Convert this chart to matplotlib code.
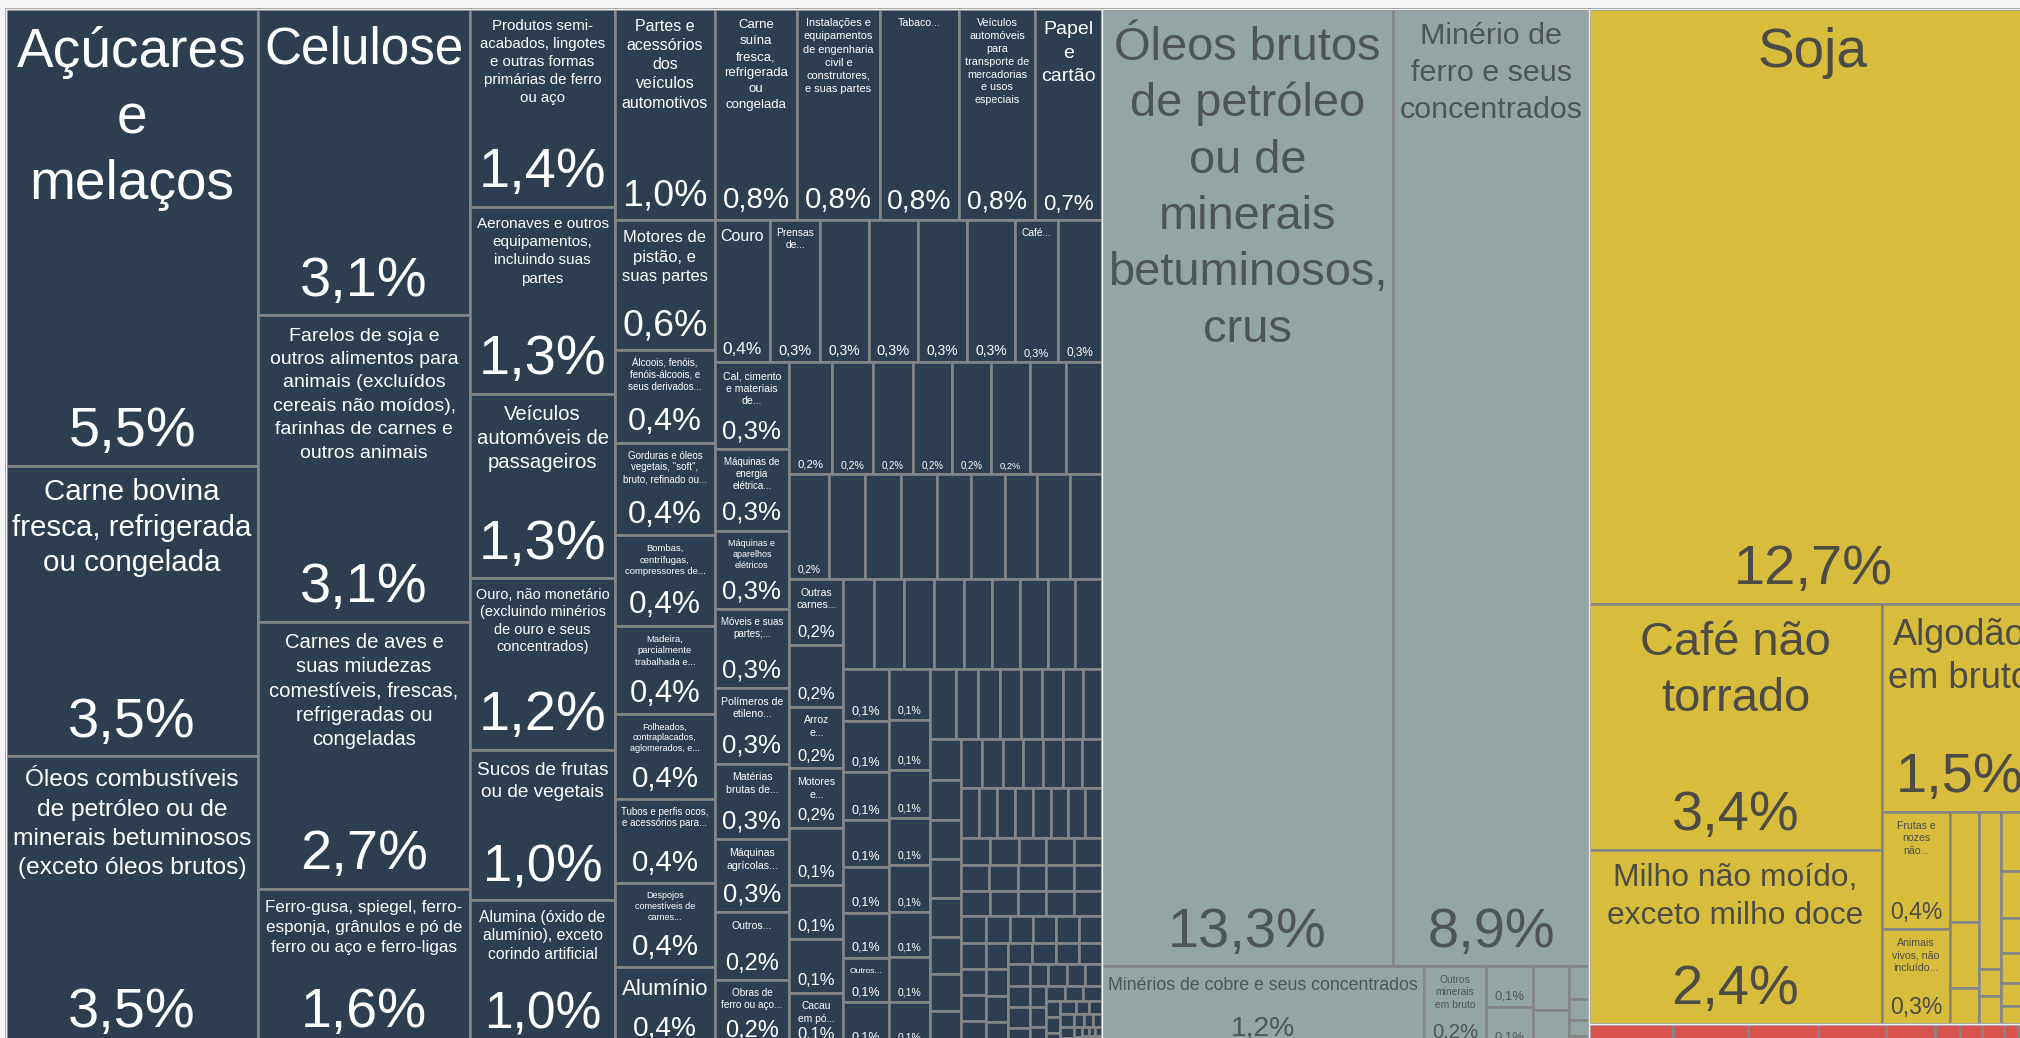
import matplotlib
matplotlib.use("Agg")
import matplotlib.pyplot as plt
from matplotlib.patches import Rectangle
from matplotlib.font_manager import FontProperties

# ---- data: share of exports (%), sorted as laid out ----
NAVY_NAMES = [
    "Açúcares e melaços",
    "Carne bovina fresca, refrigerada ou congelada",
    "Óleos combustíveis de petróleo ou de minerais betuminosos (exceto óleos brutos)",
    "Celulose",
    "Farelos de soja e outros alimentos para animais (excluídos cereais não moídos), farinhas de carnes e outros animais",
    "Carnes de aves e suas miudezas comestíveis, frescas, refrigeradas ou congeladas",
    "Ferro-gusa, spiegel, ferro-esponja, grânulos e pó de ferro ou aço e ferro-ligas",
    "Produtos semi-acabados, lingotes e outras formas primárias de ferro ou aço",
    "Aeronaves e outros equipamentos, incluindo suas partes",
    "Veículos automóveis de passageiros",
    "Ouro, não monetário (excluindo minérios de ouro e seus concentrados)",
    "Sucos de frutas ou de vegetais",
    "Alumina (óxido de alumínio), exceto corindo artificial",
    "Partes e acessórios dos veículos automotivos",
    "Carne suína fresca, refrigerada ou congelada",
    "Instalações e equipamentos de engenharia civil e construtores, e suas partes",
    "Tabaco...",
    "Veículos automóveis para transporte de mercadorias e usos especiais",
    "Papel e cartão",
    "Motores de pistão, e suas partes",
    "Álcoois, fenóis, fenóis-álcoois, e seus derivados...",
    "Gorduras e óleos vegetais, \"soft\", bruto, refinado ou...",
    "Bombas, centrífugas, compressores de...",
    "Madeira, parcialmente trabalhada e...",
    "Folheados, contraplacados, aglomerados, e...",
    "Tubos e perfis ocos, e acessórios para...",
    "Despojos comestíveis de carnes...",
    "Alumínio",
    "Couro", "Prensas de...", "", "", "", "", "Café...", "",
    "Cal, cimento e materiais de...",
    "Máquinas de energia elétrica...",
    "Máquinas e aparelhos elétricos",
    "Móveis e suas partes;...",
    "Polímeros de etileno...",
    "Matérias brutas de...",
    "Máquinas agrícolas...",
    "Outros...",
    "Obras de ferro ou aço...",
    "", "", "", "", "", "", "", "",
    "", "", "", "", "", "", "", "", "",
    "Outras carnes...", "", "Arroz e...", "Motores e...", "", "", "", "Cacau em pó...",
    "", "", "", "", "", "", "", "", "",
    "", "", "", "", "", "", "Outros...", "",
]
NAVY_VALUES = [
    5.5, 3.5, 3.5,
    3.1, 3.1, 2.7, 1.6,
    1.37, 1.30, 1.28, 1.19, 1.04, 1.02,
    1.0, 0.83, 0.83, 0.80, 0.76, 0.67,
    0.62, 0.44, 0.44, 0.43, 0.42, 0.40, 0.40, 0.40, 0.38,
    0.38, 0.34, 0.33, 0.34, 0.33, 0.33, 0.29, 0.30,
    0.31, 0.29, 0.28, 0.28, 0.27, 0.27, 0.26, 0.24, 0.24,
    0.23, 0.22, 0.21, 0.21, 0.21, 0.205, 0.195, 0.19,
    0.20, 0.18, 0.18, 0.18, 0.17, 0.17, 0.16, 0.16, 0.16,
    0.17, 0.16, 0.16, 0.155, 0.145, 0.14, 0.14, 0.14,
    0.13, 0.13, 0.13, 0.125, 0.12, 0.12, 0.12, 0.115, 0.115,
    0.115, 0.11, 0.105, 0.1, 0.1, 0.098, 0.097, 0.097,
    0.1, 0.098, 0.094, 0.092, 0.092, 0.088, 0.088, 0.088,
    0.088, 0.075, 0.073, 0.071, 0.071, 0.07, 0.067, 0.063,
    0.061, 0.06, 0.058, 0.058, 0.058, 0.056, 0.055, 0.054,
    0.05, 0.048, 0.048, 0.047, 0.046, 0.046, 0.045,
    0.044, 0.043, 0.043, 0.042, 0.042, 0.041, 0.041, 0.04,
    0.038, 0.037, 0.036, 0.036, 0.036, 0.035, 0.035, 0.035, 0.034, 0.034,
    0.034, 0.033, 0.033, 0.033, 0.032, 0.032, 0.032, 0.031, 0.031, 0.031,
    0.03, 0.03, 0.03, 0.029, 0.029, 0.028, 0.028, 0.027, 0.026, 0.025,
    0.025, 0.024, 0.023, 0.022, 0.022, 0.021, 0.02, 0.019, 0.019, 0.018,
    0.017, 0.016, 0.016, 0.015, 0.014, 0.013, 0.013, 0.012, 0.011, 0.01,
    0.01, 0.009, 0.008, 0.008, 0.007, 0.006, 0.006, 0.005, 0.005, 0.004,
    0.004, 0.003, 0.003, 0.003, 0.002, 0.002, 0.002, 0.002, 0.001, 0.001,
]
NAVY_STRIPS = "c3 c4 c6 r6 c9 r8 c9 r8 r9 c8 r9 c8 c8 r8 c8 r7 r8"

GREY_NAMES = [
    "Óleos brutos de petróleo ou de minerais betuminosos, crus",
    "Minério de ferro e seus concentrados",
    "Minérios de cobre e seus concentrados",
    "Outros minerais em bruto",
]
GREY_VALUES = [13.34, 8.94, 1.24, 0.24, 0.09, 0.09, 0.075, 0.065, 0.03, 0.02, 0.015, 0.01]
GREY_STRIPS = "r2 c1 c1 c2 c2"

YELLOW_NAMES = [
    "Soja",
    "Café não torrado",
    "Milho não moído, exceto milho doce",
    "Algodão em bruto",
    "Frutas e nozes não...",
    "Animais vivos, não incluído...",
]
YELLOW_VALUES = [12.74, 3.44, 2.44, 1.54, 0.38, 0.31,
                 0.15, 0.09, 0.05, 0.17, 0.03, 0.03,
                 0.1, 0.08, 0.06, 0.05, 0.04, 0.03]
YELLOW_STRIPS = "r1 c2 r1 c2 c3 c3"

RED_NAMES = []
RED_VALUES = [0.092, 0.082, 0.077, 0.074, 0.054, 0.027, 0.024, 0.024, 0.015, 0.012, 0.009]
RED_STRIPS = "r11"

GROUP_STRIPS = "c1 c1 c2"

# ---- style ----
W_PX, H_PX, DPI = 2020, 1038, 100
BG = "#f4f4f4"
EDGE = "#858585"
EDGE_PX = 2.6
FONT = "Liberation Sans"
COLORS = {"navy": "#2d3e50", "grey": "#95a5a6", "yellow": "#d8bd3c", "red": "#d9534f"}
TEXT = {"navy": "#ffffff", "grey": "#4f5556", "yellow": "#4d4b45", "red": "#ffffff"}
CONTAINER = (6, 9, 2031, 1038)


def parse(strips):
    return [(s[0], int(s[1:])) for s in strips.split()]


def place(vals, kind, rect, remaining):
    x, y, w, h = rect
    s = sum(vals)
    out = []
    if kind == "c":
        cw = w * s / remaining
        yy = y
        for v in vals:
            ch = h * v / s
            out.append((x, yy, cw, ch))
            yy += ch
        return out, (x + cw, y, w - cw, h)
    rh = h * s / remaining
    xx = x
    for v in vals:
        cw = w * v / s
        out.append((xx, y, cw, rh))
        xx += cw
    return out, (x, y + rh, w, h - rh)


def worst(vals, kind, rect, remaining):
    x, y, w, h = rect
    s = sum(vals)
    t = (w if kind == "c" else h) * s / remaining
    side = h if kind == "c" else w
    r = 0
    for v in vals:
        l = side * v / s
        r = max(r, t / l, l / t)
    return r


def treemap(values, rect, strips):
    rects, i = [], 0
    for kind, n in parse(strips):
        cells, rect = place(values[i:i + n], kind, rect, sum(values[i:]))
        rects += cells
        i += n
    # whatever is left: plain squarify
    while i < len(values):
        kind = "c" if rect[2] >= rect[3] else "r"
        rem = sum(values[i:])
        n = 1
        best = worst(values[i:i + 1], kind, rect, rem)
        while i + n < len(values):
            r = worst(values[i:i + n + 1], kind, rect, rem)
            if r > best:
                break
            best, n = r, n + 1
        cells, rect = place(values[i:i + n], kind, rect, rem)
        rects += cells
        i += n
    return rects


fig = plt.figure(figsize=(W_PX / DPI, H_PX / DPI), dpi=DPI, facecolor=BG)
ax = fig.add_axes([0, 0, 1, 1])
ax.set_xlim(0, W_PX)
ax.set_ylim(H_PX, 0)
ax.axis("off")
ax.set_facecolor(BG)

renderer = fig.canvas.get_renderer()
PROP = FontProperties(family=FONT, size=72)  # 100 px at 100 dpi
_cache = {}


def em(s):
    if s not in _cache:
        w, _, _ = renderer.get_text_width_height_descent(s, PROP, ismath=False)
        _cache[s] = w / 100.0
    return _cache[s]


SP = em("x x") - em("xx")


def tokens(text):
    out = []
    for word in text.split(" "):
        parts = word.split("-")
        for j, p in enumerate(parts):
            t = p + ("-" if j < len(parts) - 1 else "")
            if t:
                out.append((t, j == 0))
    return out


def wrap(toks, maxw):
    lines, cur, cw = [], "", 0.0
    for t, sp in toks:
        tw = em(t)
        if tw > maxw:
            return None
        add = tw + (SP if (sp and cur) else 0)
        if cur and cw + add > maxw:
            lines.append(cur)
            cur, cw = t, tw
        else:
            cur += (" " if (sp and cur) else "") + t
            cw += add
    if cur:
        lines.append(cur)
    return lines


def fit_title(name, avail, budget):
    toks = tokens(name)
    f = 10.5 if name.endswith("...") else 55.0
    while f >= 5.5:
        lines = wrap(toks, avail / f)
        if lines and len(lines) * 1.2 * f <= budget:
            return f, lines
        f -= 0.25
    return None, None


def pct_text(v):
    return f"{v:.1f}".replace(".", ",") + "%"


def draw_labels(cell, name, v, tcolor):
    x, y, w, h = cell
    fp = min(56.0, 0.46 * w - 8.4, 0.35 * h)
    show_p = fp >= 9
    if show_p:
        ax.text(x + w / 2, y + h - 0.3 * fp - 3, pct_text(v), fontsize=fp * 72 / DPI,
                family=FONT, color=tcolor, ha="center", va="baseline", clip_on=True, zorder=5)
    if name:
        budget = 0.46 * h
        if show_p:
            budget = min(budget, h - 1.75 * fp)
        f, lines = fit_title(name, w - 12, budget)
        if f:
            for k, line in enumerate(lines):
                ax.text(x + w / 2, y + 7 + 0.93 * f + k * 1.2 * f, line, fontsize=f * 72 / DPI,
                        family=FONT, color=tcolor, ha="center", va="baseline", clip_on=True, zorder=5)


groups = [
    ("navy", NAVY_NAMES, NAVY_VALUES, NAVY_STRIPS),
    ("grey", GREY_NAMES, GREY_VALUES, GREY_STRIPS),
    ("yellow", YELLOW_NAMES, YELLOW_VALUES, YELLOW_STRIPS),
    ("red", RED_NAMES, RED_VALUES, RED_STRIPS),
]
group_rects = treemap([sum(g[2]) for g in groups], CONTAINER, GROUP_STRIPS)

lw = EDGE_PX * 72 / DPI
for (key, names, vals, strips), grect in zip(groups, group_rects):
    cells = treemap(vals, grect, strips)
    names = names + [""] * (len(vals) - len(names))
    for cell, name, v in zip(cells, names, vals):
        ax.add_patch(Rectangle(cell[:2], cell[2], cell[3], facecolor=COLORS[key],
                               edgecolor=EDGE, linewidth=lw, zorder=1))
        draw_labels(cell, name, v, TEXT[key])
    ax.add_patch(Rectangle(grect[:2], grect[2], grect[3], fill=False,
                           edgecolor="#eeeeee", linewidth=1.4 * 72 / DPI, zorder=3))

fig.savefig("out.png", dpi=DPI, facecolor=BG)
